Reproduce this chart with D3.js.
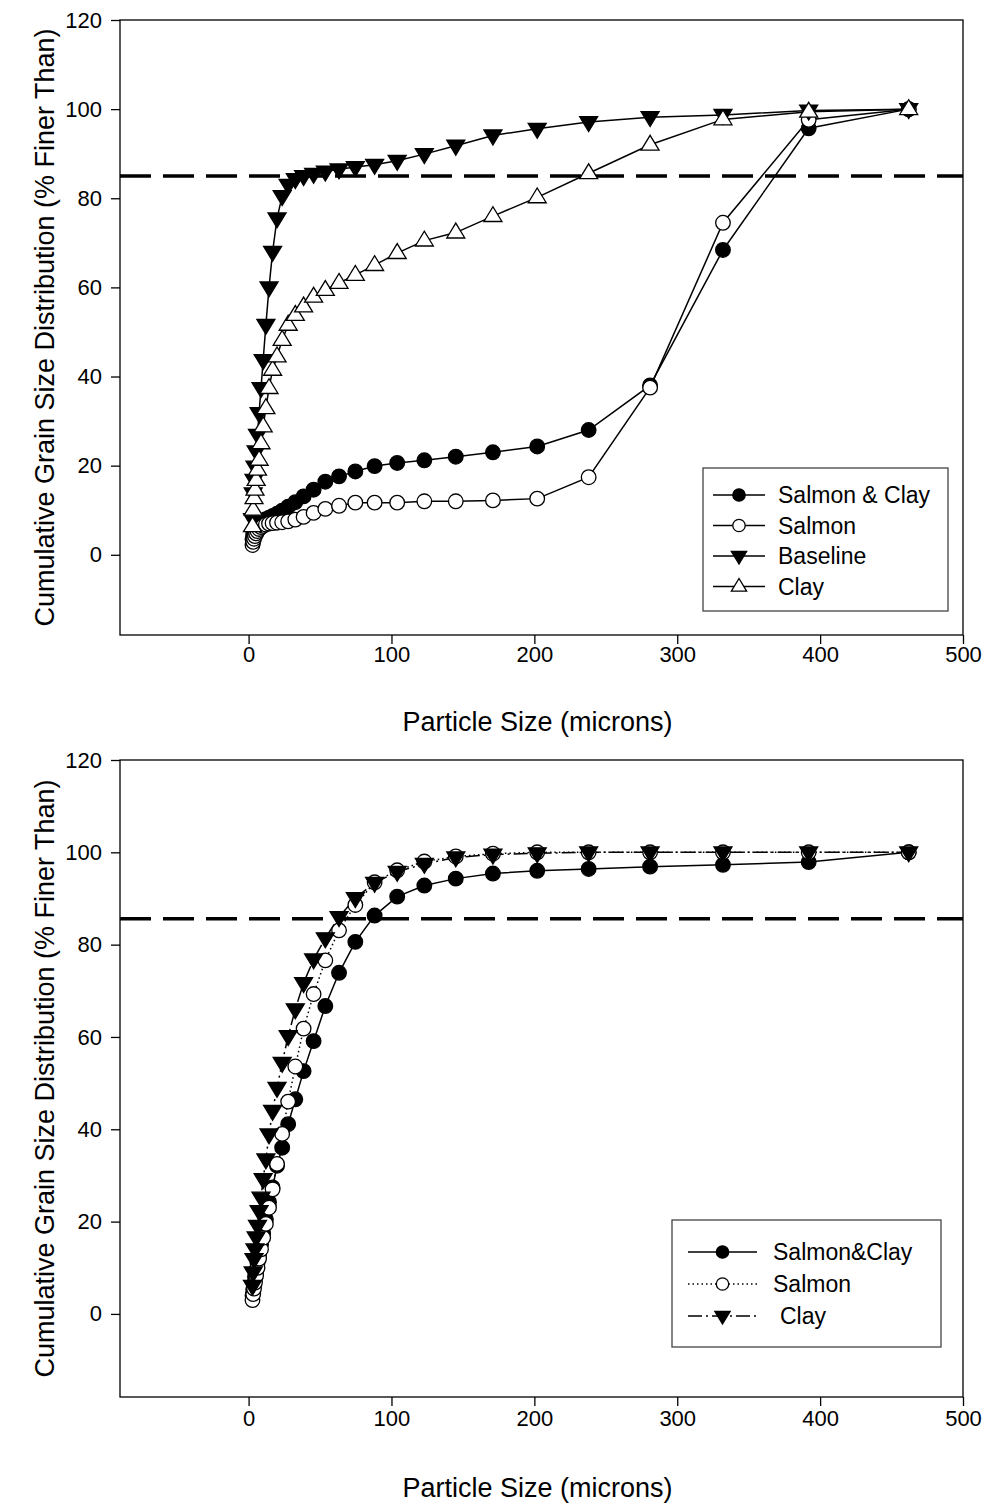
<!DOCTYPE html>
<html><head><meta charset="utf-8">
<script src="https://cdn.jsdelivr.net/npm/d3@7"></script>
<style>body{margin:0;background:#fff;} text{font-family:"Liberation Sans",Arial,sans-serif;}</style>
</head><body>
<svg id="chart" width="987" height="1506"></svg>
<script>
// LISST size bins (microns)
const sizes = [2.73,3.22,3.8,4.48,5.29,6.24,7.36,8.69,10.2,12.1,14.3,16.8,19.9,23.5,27.7,32.7,38.5,45.5,53.7,63.3,74.7,88.2,104,123,145,171,202,238,281,332,392,462];

// Top panel series
const topSalmonClay = [3.5,4.5,5.3,6,6.5,6.9,7.2,7.5,7.7,8,8.3,8.7,9.2,9.9,10.8,11.8,13.1,14.6,16.4,17.6,18.7,19.9,20.6,21.2,22,23,24.3,28,38,68.4,95.7,100];
const topSalmon = [2.2,2.9,3.6,4.2,4.8,5.3,5.8,6.2,6.5,6.8,7,7.1,7.2,7.3,7.5,7.9,8.5,9.4,10.3,11,11.7,11.7,11.7,12,12,12.2,12.6,17.4,37.5,74.5,97.6,100];
const topBaseline = [8,13.8,16.8,19.8,23.2,26.9,31.8,37.4,43.7,51.6,60,68,75.5,80.5,83,84.3,85,85.5,86,86.5,87,87.5,88.4,89.9,91.8,94.1,95.6,97.1,98.2,98.7,99.7,100];
const topClay = [6.4,10.1,12.7,14.6,16.8,19.1,21.3,25,28.8,32.9,37.4,41.5,44.5,48.2,51.6,53.8,55.7,57.9,59.4,61,62.8,65,67.7,70.5,72.3,76,80.2,85.6,92,97.7,99.4,100];

// Bottom panel series
const botSalmonClay = [4,5.3,6.5,8,9.5,11,13,15,17.5,20.5,24.2,27.4,32.1,36,41.1,46.5,52.6,59.1,66.7,73.9,80.6,86.3,90.4,92.8,94.3,95.4,96,96.4,96.9,97.3,97.9,100];
const botSalmon = [3,4.3,5.5,6.8,8.3,10,12,14,16.5,19.5,23,27,32.5,39,46,53.6,61.8,69.3,76.6,83.1,88.6,93.5,96.1,98,99.1,99.7,100,100,100,100,100,100];
const botClay = [6.1,9,11.9,14,16.6,19.1,22.3,25.2,29.2,33.5,38.9,44,49,54.4,60.2,66,71.7,76.8,81.4,86,90.1,93.4,95.8,97.5,98.9,99.5,99.8,100,100,100,100,100];

const refTop = 85, refBot = 85.6;
const xTicks = [0,100,200,300,400,500];
const yTicks = [0,20,40,60,80,100,120];
const xLabel = "Particle Size (microns)";
const yLabel = "Cumulative Grain Size Distribution (% Finer Than)";

const svg = d3.select("#chart");

function panel(cfg){
  const g = svg.append("g");
  const x = d3.scaleLinear().domain([-90,500]).range([cfg.left,cfg.right]);
  const y = d3.scaleLinear().domain([-18,120]).range([cfg.bottom,cfg.top]);
  g.append("rect").attr("x",cfg.left).attr("y",cfg.top).attr("width",cfg.right-cfg.left).attr("height",cfg.bottom-cfg.top)
    .attr("fill","none").attr("stroke","#000").attr("stroke-width",1.3);
  const xa = g.append("g").attr("transform",`translate(0,${cfg.bottom})`)
    .call(d3.axisBottom(x).tickValues(xTicks).tickSize(9).tickPadding(cfg.xPad).tickFormat(d3.format("d")));
  const ya = g.append("g").attr("transform",`translate(${cfg.left},0)`)
    .call(d3.axisLeft(y).tickValues(yTicks).tickSize(9).tickPadding(9).tickFormat(d3.format("d")));
  [xa,ya].forEach(a=>{a.select(".domain").remove(); a.selectAll("line").attr("stroke","#000").attr("stroke-width",1.3);
    a.selectAll("text").attr("font-size",22).attr("fill","#000").style("font-family","'Liberation Sans',Arial,sans-serif");});
  g.append("text").attr("x",(cfg.left+cfg.right)/2-4).attr("y",cfg.xLabelY).attr("text-anchor","middle").attr("font-size",27).text(xLabel);
  g.append("text").attr("transform",`translate(54,${(cfg.top+cfg.bottom)/2}) rotate(-90)`).attr("text-anchor","middle").attr("font-size",27).text(yLabel);
  g.append("line").attr("x1",cfg.left).attr("x2",cfg.right).attr("y1",y(cfg.ref)).attr("y2",y(cfg.ref))
    .attr("stroke","#000").attr("stroke-width",3.5).attr("stroke-dasharray","31,12");
  const line = d3.line().x((d,i)=>x(sizes[i])).y(d=>y(d));
  cfg.series.forEach(s=>{
    g.append("path").datum(s.values).attr("d",line).attr("fill","none").attr("stroke","#000").attr("stroke-width",1.5)
      .attr("stroke-dasharray",s.dash||null);
  });
  cfg.series.forEach(s=>{
    s.values.forEach((v,i)=>drawMarker(g,s.marker,x(sizes[i]),y(v)));
  });
  const lg = g.append("g");
  lg.append("rect").attr("x",cfg.leg.x).attr("y",cfg.leg.y).attr("width",cfg.leg.w).attr("height",cfg.leg.h)
    .attr("fill","#fff").attr("stroke","#444").attr("stroke-width",1.3);
  cfg.series.forEach((s,i)=>{
    const yy = cfg.leg.y + cfg.leg.first + i*cfg.leg.step;
    lg.append("line").attr("x1",cfg.leg.x+cfg.leg.l1).attr("x2",cfg.leg.x+cfg.leg.l2).attr("y1",yy).attr("y2",yy)
      .attr("stroke","#000").attr("stroke-width",1.5).attr("stroke-dasharray",s.dash||null);
    drawMarker(lg,s.marker,cfg.leg.x+(cfg.leg.l1+cfg.leg.l2)/2,yy,0.85);
    lg.append("text").attr("x",cfg.leg.x+cfg.leg.tx+(s.tdx||0)).attr("y",yy).attr("dy","0.36em").attr("font-size",23).text(s.name);
  });
}

function drawMarker(g,type,cx,cy,k=1){
  if(type==="circleF"||type==="circleO"){
    g.append("circle").attr("cx",cx).attr("cy",cy).attr("r",7.3*k)
      .attr("fill",type==="circleF"?"#000":"#fff").attr("stroke","#000").attr("stroke-width",1.3);
  } else {
    const s = 9*k;
    let pts;
    if(type==="triDownF") pts=[[cx-s,cy-s*0.6],[cx+s,cy-s*0.6],[cx,cy+s*1.05]];
    else pts=[[cx-s,cy+s*0.6],[cx+s,cy+s*0.6],[cx,cy-s*1.05]];
    g.append("polygon").attr("points",pts.map(p=>p.join(",")).join(" "))
      .attr("fill",type==="triDownF"?"#000":"#fff").attr("stroke","#000").attr("stroke-width",1.3);
  }
}

panel({left:120,right:963,top:20,bottom:635,xLabelY:731,xPad:2,ref:refTop,
  series:[
    {name:"Salmon & Clay",values:topSalmonClay,marker:"circleF"},
    {name:"Salmon",values:topSalmon,marker:"circleO"},
    {name:"Baseline",values:topBaseline,marker:"triDownF"},
    {name:"Clay",values:topClay,marker:"triUpO"}
  ],
  leg:{x:703,y:468,w:245,h:143,first:27,step:30.5,l1:10,l2:62,tx:75}
});

panel({left:120,right:963,top:760,bottom:1397,xLabelY:1497,xPad:4,ref:refBot,
  series:[
    {name:"Salmon&Clay",values:botSalmonClay,marker:"circleF"},
    {name:"Salmon",values:botSalmon,marker:"circleO",dash:"1.5,3"},
    {name:"Clay",values:botClay,marker:"triDownF",dash:"14,4,2,4",tdx:7}
  ],
  leg:{x:672,y:1220,w:269,h:127,first:32,step:32,l1:16,l2:85,tx:101}
});
</script>
</body></html>
